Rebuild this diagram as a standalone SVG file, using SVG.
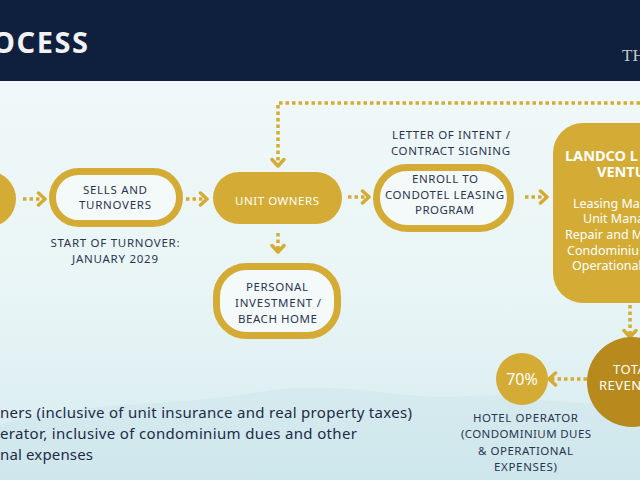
<svg xmlns="http://www.w3.org/2000/svg" width="640" height="480" viewBox="0 0 640 480">
  <defs>
    <linearGradient id="bg" x1="0" y1="0" x2="0" y2="1">
      <stop offset="0" stop-color="#f3f9f9"/>
      <stop offset="0.6" stop-color="#e9f5f6"/>
      <stop offset="1" stop-color="#d6ebef"/>
    </linearGradient>
    <marker id="chev" viewBox="-10 -8 12 16" markerWidth="12" markerHeight="16" refX="0" refY="0" orient="auto" markerUnits="userSpaceOnUse">
      <path d="M-6.5,-6 L0,0 L-6.5,6" fill="none" stroke="#d4ac35" stroke-width="3.5" stroke-linecap="round" stroke-linejoin="round"/>
    </marker>
    <style>
      .dots { fill: none; stroke: #d4ac35; stroke-width: 3.5; stroke-dasharray: 3.5 3; marker-end: url(#chev); }
      .outline { fill: #f4fafa; stroke: #d4ac35; stroke-width: 7; }
      .gold { fill: #d4ac35; }
      .lbl { font-family: "Noto Sans", "Open Sans", sans-serif; font-size: 11.5px; fill: #2b3552; text-anchor: middle; }
      .wl { font-family: "Noto Sans", "Open Sans", sans-serif; font-size: 11.5px; fill: #ffffff; text-anchor: middle; }
      .body { font-family: "Noto Sans", "Open Sans", sans-serif; font-size: 15px; fill: #1e2a4a; }
      .wb { font-family: "Noto Sans", "Open Sans", sans-serif; font-size: 12.5px; fill: #ffffff; }
    </style>
  </defs>

  <rect width="640" height="480" fill="url(#bg)"/>
  <g fill="#b6dbe3" opacity="0.22">
    <path d="M0,425 C80,400 170,408 260,392 C340,378 400,402 470,396 C520,392 560,410 640,400 L640,480 L0,480 Z"/>
    <path d="M240,480 C300,445 360,436 420,448 C470,458 520,446 560,452 L560,480 Z"/>
  </g>

  <!-- header -->
  <rect x="0" y="0" width="640" height="81" fill="#0f1f3e"/>
  <text x="-8" y="53" font-family="'Noto Sans', 'Open Sans', sans-serif" font-weight="bold" font-size="29" fill="#f2f2f2" textLength="96">OCESS</text>
  <text x="622" y="61" font-family="'Liberation Serif', serif" font-size="17" fill="#c9c9c9">TH</text>

  <!-- connectors -->
  <g id="connectors">
    <path class="dots" d="M23,199 H45"/>
    <path class="dots" d="M186,199 H207"/>
    <path class="dots" d="M348,197 H369"/>
    <path class="dots" d="M525,197 H547"/>
    <path class="dots" d="M278,233 V252"/>
    <path class="dots" d="M640,103 H278 V166"/>
    <path class="dots" d="M630,305 V337"/>
    <path class="dots" d="M587,379 H549"/>
  </g>

  <g id="node-start">
    <circle class="gold" cx="-12" cy="199" r="28"/>
  </g>

  <g id="node-sells">
    <rect class="outline" x="52.5" y="171.5" width="127" height="52" rx="26"/>
    <text class="lbl" x="115" y="194" textLength="64">SELLS AND</text>
    <text class="lbl" x="115" y="209" textLength="72">TURNOVERS</text>
    <text class="lbl" x="115" y="247" textLength="129">START OF TURNOVER:</text>
    <text class="lbl" x="115" y="263" textLength="86">JANUARY 2029</text>
  </g>

  <g id="node-unit-owners">
    <rect class="gold" x="213" y="172" width="129" height="52" rx="26"/>
    <text class="wl" x="277" y="205" textLength="84">UNIT OWNERS</text>
  </g>

  <g id="node-personal">
    <rect class="outline" x="216.5" y="266.5" width="121" height="69" rx="30"/>
    <text class="lbl" x="277" y="291" textLength="62">PERSONAL</text>
    <text class="lbl" x="278" y="307" textLength="86">INVESTMENT /</text>
    <text class="lbl" x="277.5" y="323" textLength="79">BEACH HOME</text>
  </g>

  <g id="node-enroll">
    <rect class="outline" x="376.5" y="167.5" width="134" height="61" rx="30.5"/>
    <text class="lbl" x="451" y="139" textLength="118">LETTER OF INTENT /</text>
    <text class="lbl" x="450.5" y="155" textLength="119">CONTRACT SIGNING</text>
    <text class="lbl" x="445" y="183" textLength="66">ENROLL TO</text>
    <text class="lbl" x="444.5" y="199" textLength="119">CONDOTEL LEASING</text>
    <text class="lbl" x="444.5" y="214" textLength="59">PROGRAM</text>
  </g>

  <g id="node-landco">
    <rect class="gold" x="553" y="123" width="130" height="180" rx="30"/>
    <text x="565" y="161" font-family="'Noto Sans', 'Open Sans', sans-serif" font-weight="bold" font-size="14.5" fill="#ffffff">LANDCO L</text>
    <text x="597" y="177" font-family="'Noto Sans', 'Open Sans', sans-serif" font-weight="bold" font-size="14.5" fill="#ffffff">VENTU</text>
    <text class="wb" x="573" y="208">Leasing Ma</text>
    <text class="wb" x="583" y="223">Unit Mana</text>
    <text class="wb" x="565" y="239">Repair and M</text>
    <text class="wb" x="567" y="255">Condominiu</text>
    <text class="wb" x="572" y="270">Operational</text>
  </g>

  <g id="node-total">
    <circle cx="632" cy="382" r="45" fill="#b8891c"/>
    <text x="613" y="374" font-family="'Noto Sans', 'Open Sans', sans-serif" font-size="13" fill="#ffffff" letter-spacing="0.5">TOTA</text>
    <text x="599" y="390" font-family="'Noto Sans', 'Open Sans', sans-serif" font-size="13" fill="#ffffff" letter-spacing="0.5">REVEN</text>
  </g>

  <g id="node-70">
    <circle class="gold" cx="522" cy="379" r="26"/>
    <text x="522" y="385" font-family="'Noto Sans', 'Open Sans', sans-serif" font-size="16" fill="#ffffff" text-anchor="middle">70%</text>
    <text class="lbl" x="525.5" y="422" textLength="105">HOTEL OPERATOR</text>
    <text class="lbl" x="526" y="438" textLength="130">(CONDOMINIUM DUES</text>
    <text class="lbl" x="525.5" y="455" textLength="95">&amp; OPERATIONAL</text>
    <text class="lbl" x="525.5" y="471" textLength="63">EXPENSES)</text>
  </g>

  <g id="notes">
    <text class="body" x="0" y="418" textLength="412">ners (inclusive of unit insurance and real property taxes)</text>
    <text class="body" x="0" y="439" textLength="357">erator, inclusive of condominium dues and other</text>
    <text class="body" x="0" y="460" textLength="93">nal expenses</text>
  </g>
</svg>
